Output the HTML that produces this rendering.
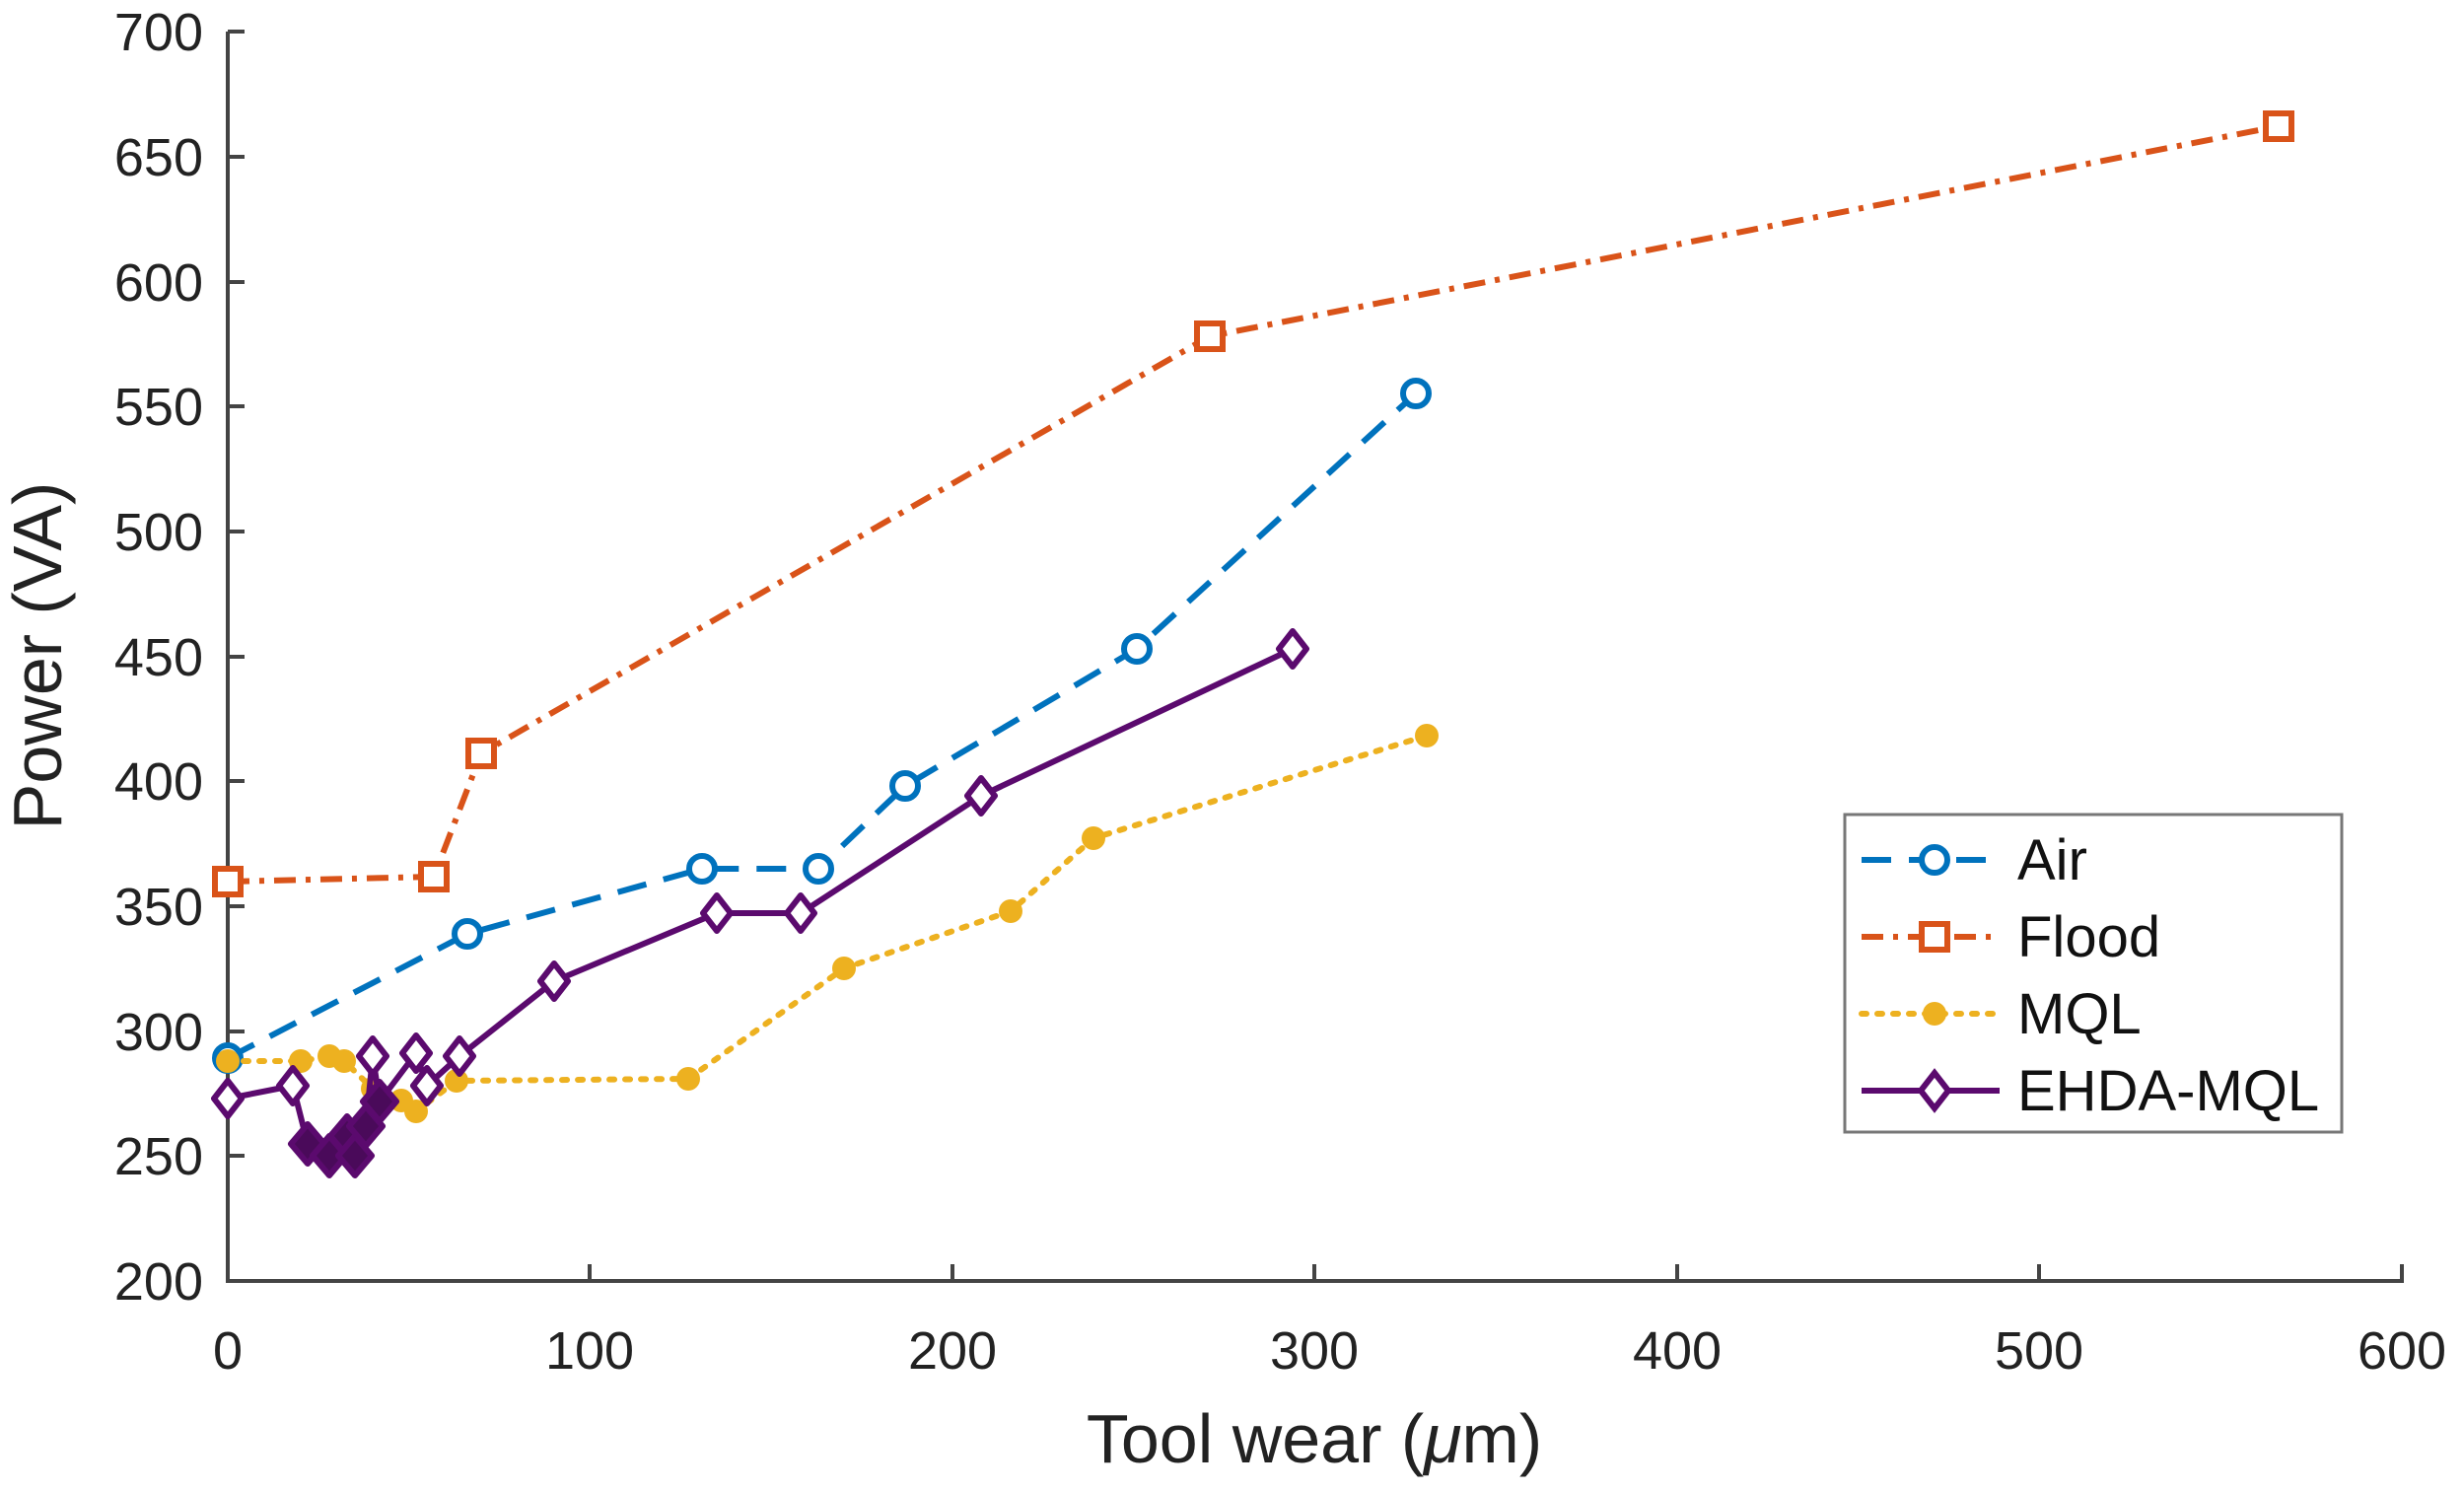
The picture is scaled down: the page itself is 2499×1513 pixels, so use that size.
<!DOCTYPE html>
<html><head><meta charset="utf-8"><style>body{margin:0;background:#fff}svg{display:block}</style></head><body>
<svg width="2499" height="1513" viewBox="0 0 2499 1513" xmlns="http://www.w3.org/2000/svg" font-family="Liberation Sans, sans-serif">
<g stroke="#444" stroke-width="4" fill="none">
<path d="M231,32 V1299 H2436 V1282"/>
<path d="M231,32 H248 M231,159 H248 M231,286 H248 M231,412 H248 M231,539 H248 M231,666 H248 M231,792 H248 M231,919 H248 M231,1046 H248 M231,1172 H248"/>
<path d="M598,1299 V1282 M966,1299 V1282 M1333,1299 V1282 M1701,1299 V1282 M2068,1299 V1282"/>
</g>
<g font-size="54" fill="#222" text-anchor="end">
<text x="206" y="51">700</text><text x="206" y="178">650</text><text x="206" y="305">600</text><text x="206" y="431">550</text><text x="206" y="558">500</text><text x="206" y="685">450</text><text x="206" y="811">400</text><text x="206" y="938">350</text><text x="206" y="1065">300</text><text x="206" y="1191">250</text><text x="206" y="1318">200</text>
</g>
<g font-size="54" fill="#222" text-anchor="middle">
<text x="231" y="1388">0</text><text x="598" y="1388">100</text><text x="966" y="1388">200</text><text x="1333" y="1388">300</text><text x="1701" y="1388">400</text><text x="2068" y="1388">500</text><text x="2436" y="1388">600</text>
<text x="1333" y="1483" font-size="70">Tool wear (<tspan font-style="italic">μ</tspan>m)</text>
<text transform="translate(62,665) rotate(-90)" font-size="70">Power (VA)</text>
</g>
<!-- Flood -->
<g stroke="#D95319" stroke-width="6" fill="none">
<polyline stroke-dasharray="22,10,5,10" points="231,894 440,889 488,764 1227,341 2311,128"/>
<g fill="#fff"><rect x="218" y="881" width="26" height="26"/><rect x="427" y="876" width="26" height="26"/><rect x="475" y="751" width="26" height="26"/><rect x="1214" y="328" width="26" height="26"/><rect x="2298" y="115" width="26" height="26"/></g>
</g>
<!-- Air -->
<g stroke="#0072BD" stroke-width="6" fill="none">
<polyline stroke-dasharray="30,18" points="231,1073 474,947 712,881 830,881 918,797 1153,658 1436,399"/>
<g fill="#fff"><circle cx="231" cy="1073" r="13"/><circle cx="474" cy="947" r="13"/><circle cx="712" cy="881" r="13"/><circle cx="830" cy="881" r="13"/><circle cx="918" cy="797" r="13"/><circle cx="1153" cy="658" r="13"/><circle cx="1436" cy="399" r="13"/></g>
</g>
<!-- MQL -->
<g stroke="#EDB120" stroke-width="6" fill="#EDB120">
<polyline fill="none" stroke-dasharray="5,11" stroke-linecap="round" points="231,1076 305,1076 334,1071 349,1076 378,1104 407,1116 422,1127 463,1096 698,1094 856,982 1025,924 1109,850 1447,746"/>
<g stroke="none"><circle cx="231" cy="1076" r="12"/><circle cx="305" cy="1076" r="12"/><circle cx="334" cy="1071" r="12"/><circle cx="349" cy="1076" r="12"/><circle cx="378" cy="1104" r="12"/><circle cx="407" cy="1116" r="12"/><circle cx="422" cy="1127" r="12"/><circle cx="463" cy="1096" r="12"/><circle cx="698" cy="1094" r="12"/><circle cx="856" cy="982" r="12"/><circle cx="1025" cy="924" r="12"/><circle cx="1109" cy="850" r="12"/><circle cx="1447" cy="746" r="12"/></g>
</g>
<!-- EHDA -->
<g stroke="#5B0A6E" stroke-width="6" fill="none" stroke-linejoin="round">
<polyline points="231,1114 297,1101 312,1160 334,1172 352,1152 360,1172 371,1142 378,1071 385,1117 422,1068 433,1101 466,1071 562,995 727,926 812,926 995,807 1311,658"/>
<g fill="#fff">
<path d="M231,1096 l14,18 -14,18 -14,-18z"/><path d="M297,1083 l14,18 -14,18 -14,-18z"/>
<path d="M312,1140 l17,20 -17,20 -17,-20z" fill="#4a0a5a"/><path d="M334,1152 l17,20 -17,20 -17,-20z" fill="#4a0a5a"/>
<path d="M352,1132 l17,20 -17,20 -17,-20z" fill="#4a0a5a"/><path d="M360,1152 l17,20 -17,20 -17,-20z" fill="#4a0a5a"/>
<path d="M371,1122 l17,20 -17,20 -17,-20z" fill="#4a0a5a"/><path d="M378,1053 l14,18 -14,18 -14,-18z"/>
<path d="M385,1097 l17,20 -17,20 -17,-20z" fill="#4a0a5a"/><path d="M422,1050 l14,18 -14,18 -14,-18z"/>
<path d="M433,1083 l14,18 -14,18 -14,-18z"/><path d="M466,1053 l14,18 -14,18 -14,-18z"/>
<path d="M562,977 l14,18 -14,18 -14,-18z"/><path d="M727,908 l14,18 -14,18 -14,-18z"/>
<path d="M812,908 l14,18 -14,18 -14,-18z"/><path d="M995,789 l14,18 -14,18 -14,-18z"/>
<path d="M1311,640 l14,18 -14,18 -14,-18z"/>
</g>
</g>
<!-- Legend -->
<rect x="1871" y="826" width="504" height="322" fill="#fff" stroke="#777" stroke-width="3"/>
<g stroke-width="6" fill="#fff">
<line x1="1888" y1="872" x2="2028" y2="872" stroke="#0072BD" stroke-dasharray="30,18"/><circle cx="1962" cy="872" r="13" stroke="#0072BD"/>
<line x1="1888" y1="950" x2="2028" y2="950" stroke="#D95319" stroke-dasharray="22,10,5,10"/><rect x="1949" y="937" width="26" height="26" stroke="#D95319"/>
<line x1="1888" y1="1028" x2="2028" y2="1028" stroke="#EDB120" stroke-dasharray="5,11" stroke-linecap="round"/><circle cx="1962" cy="1028" r="12" fill="#EDB120" stroke="none"/>
<line x1="1888" y1="1106" x2="2028" y2="1106" stroke="#5B0A6E"/><path d="M1962,1088 l14,18 -14,18 -14,-18z" stroke="#5B0A6E"/>
</g>
<g font-size="58" fill="#111">
<text x="2046" y="892">Air</text><text x="2046" y="970">Flood</text><text x="2046" y="1048">MQL</text><text x="2046" y="1126">EHDA-MQL</text>
</g>
</svg>
</body></html>
